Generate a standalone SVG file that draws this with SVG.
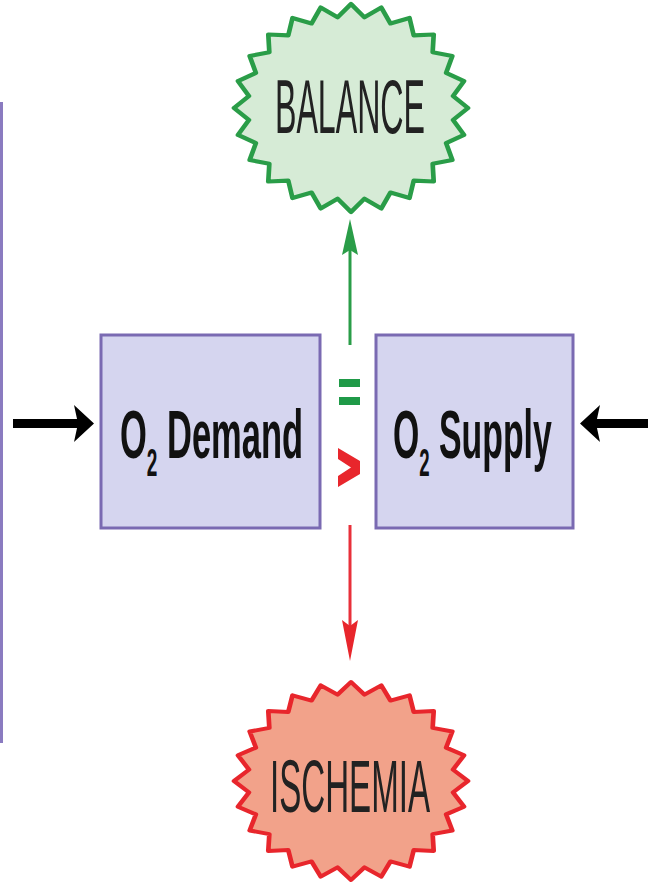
<svg xmlns="http://www.w3.org/2000/svg" width="648" height="889" viewBox="0 0 648 889">
<style>
.box{fill:#d5d5ef;stroke:#7a6ab2;stroke-width:3}
.lbl{font-family:"Liberation Sans",Arial,sans-serif;font-weight:bold;fill:#111;font-size:69px}
.sub{font-size:38px}
.burst-t{font-family:"Liberation Sans",Arial,sans-serif;fill:#222}
.burst{stroke-width:4;stroke-linejoin:round}
</style>
<defs>
<path id="star" d="M100,0 87.2,11.5 96.6,25.9 81.3,33.7 86.6,50 69.8,53.6 70.7,70.7 53.6,69.8 50,86.6 33.7,81.3 25.9,96.6 11.5,87.2 0,100 -11.5,87.2 -25.9,96.6 -33.7,81.3 -50,86.6 -53.6,69.8 -70.7,70.7 -69.8,53.6 -86.6,50 -81.3,33.7 -96.6,25.9 -87.2,11.5 -100,0 -87.2,-11.5 -96.6,-25.9 -81.3,-33.7 -86.6,-50 -69.8,-53.6 -70.7,-70.7 -53.6,-69.8 -50,-86.6 -33.7,-81.3 -25.9,-96.6 -11.5,-87.2 0,-100 11.5,-87.2 25.9,-96.6 33.7,-81.3 50,-86.6 53.6,-69.8 70.7,-70.7 69.8,-53.6 86.6,-50 81.3,-33.7 96.6,-25.9 87.2,-11.5Z"/>
<linearGradient id="gbox" x1="0" y1="0" x2="0" y2="1">
<stop offset="0" stop-color="#e2e2f5"/><stop offset="0.25" stop-color="#d5d5ef"/><stop offset="1" stop-color="#d2d2ec"/>
</linearGradient>
</defs>

<g id="left-frame"><rect x="0" y="102" width="3" height="641" fill="#8a7bc0"/></g>

<g id="balance">
<use href="#star" class="burst" transform="translate(351,108) scale(1.17,1.04)" fill="#d6ebd6" stroke="#2a9d48" style="vector-effect:non-scaling-stroke"/>
<text class="burst-t" x="275" y="133" font-size="76" textLength="150" lengthAdjust="spacingAndGlyphs">BALANCE</text>
</g>

<g id="ischemia">
<use href="#star" class="burst" transform="translate(351,781) scale(1.17,0.99)" fill="#f2a28a" stroke="#e8262c" style="vector-effect:non-scaling-stroke"/>
<text class="burst-t" x="270" y="812" font-size="75" textLength="160" lengthAdjust="spacingAndGlyphs">ISCHEMIA</text>
</g>

<g id="o2-demand">
<rect class="box" x="101" y="335" width="219" height="193" fill="url(#gbox)"/>
<text class="lbl" transform="translate(120,458) scale(0.5,1)" x="0" y="0">O<tspan class="sub" dy="18">2</tspan><tspan dy="-18"> Demand</tspan></text>
</g>

<g id="o2-supply">
<rect class="box" x="376" y="335" width="197" height="193" fill="url(#gbox)"/>
<text class="lbl" transform="translate(393,458) scale(0.49,1)" x="0" y="0">O<tspan class="sub" dy="18">2</tspan><tspan dy="-18"> Supply</tspan></text>
</g>

<g id="connectors">
<line x1="350" y1="345" x2="350" y2="245" stroke="#2a9d48" stroke-width="3"/>
<polygon points="350,219 358,255 350,250 342,255" fill="#2a9d48"/>
<line x1="350" y1="525" x2="350" y2="630" stroke="#e8303a" stroke-width="3"/>
<polygon points="350,661 358,620 350,626 342,620" fill="#e8262c"/>
<rect x="13" y="419" width="66" height="9" fill="#000"/>
<polygon points="94,423.5 74,405 78,423.5 74,442" fill="#000"/>
<rect x="590" y="419" width="58" height="9" fill="#000"/>
<polygon points="580,423.5 600,405 596,423.5 600,442" fill="#000"/>
</g>

<g id="operators">
<rect x="339" y="379" width="21" height="8" fill="#1f9a48"/>
<rect x="339" y="397" width="21" height="8" fill="#1f9a48"/>
<polygon points="338,448 360,461 360,474 338,487 338,476 351,467.5 338,459" fill="#e8262c"/>
</g>
</svg>
